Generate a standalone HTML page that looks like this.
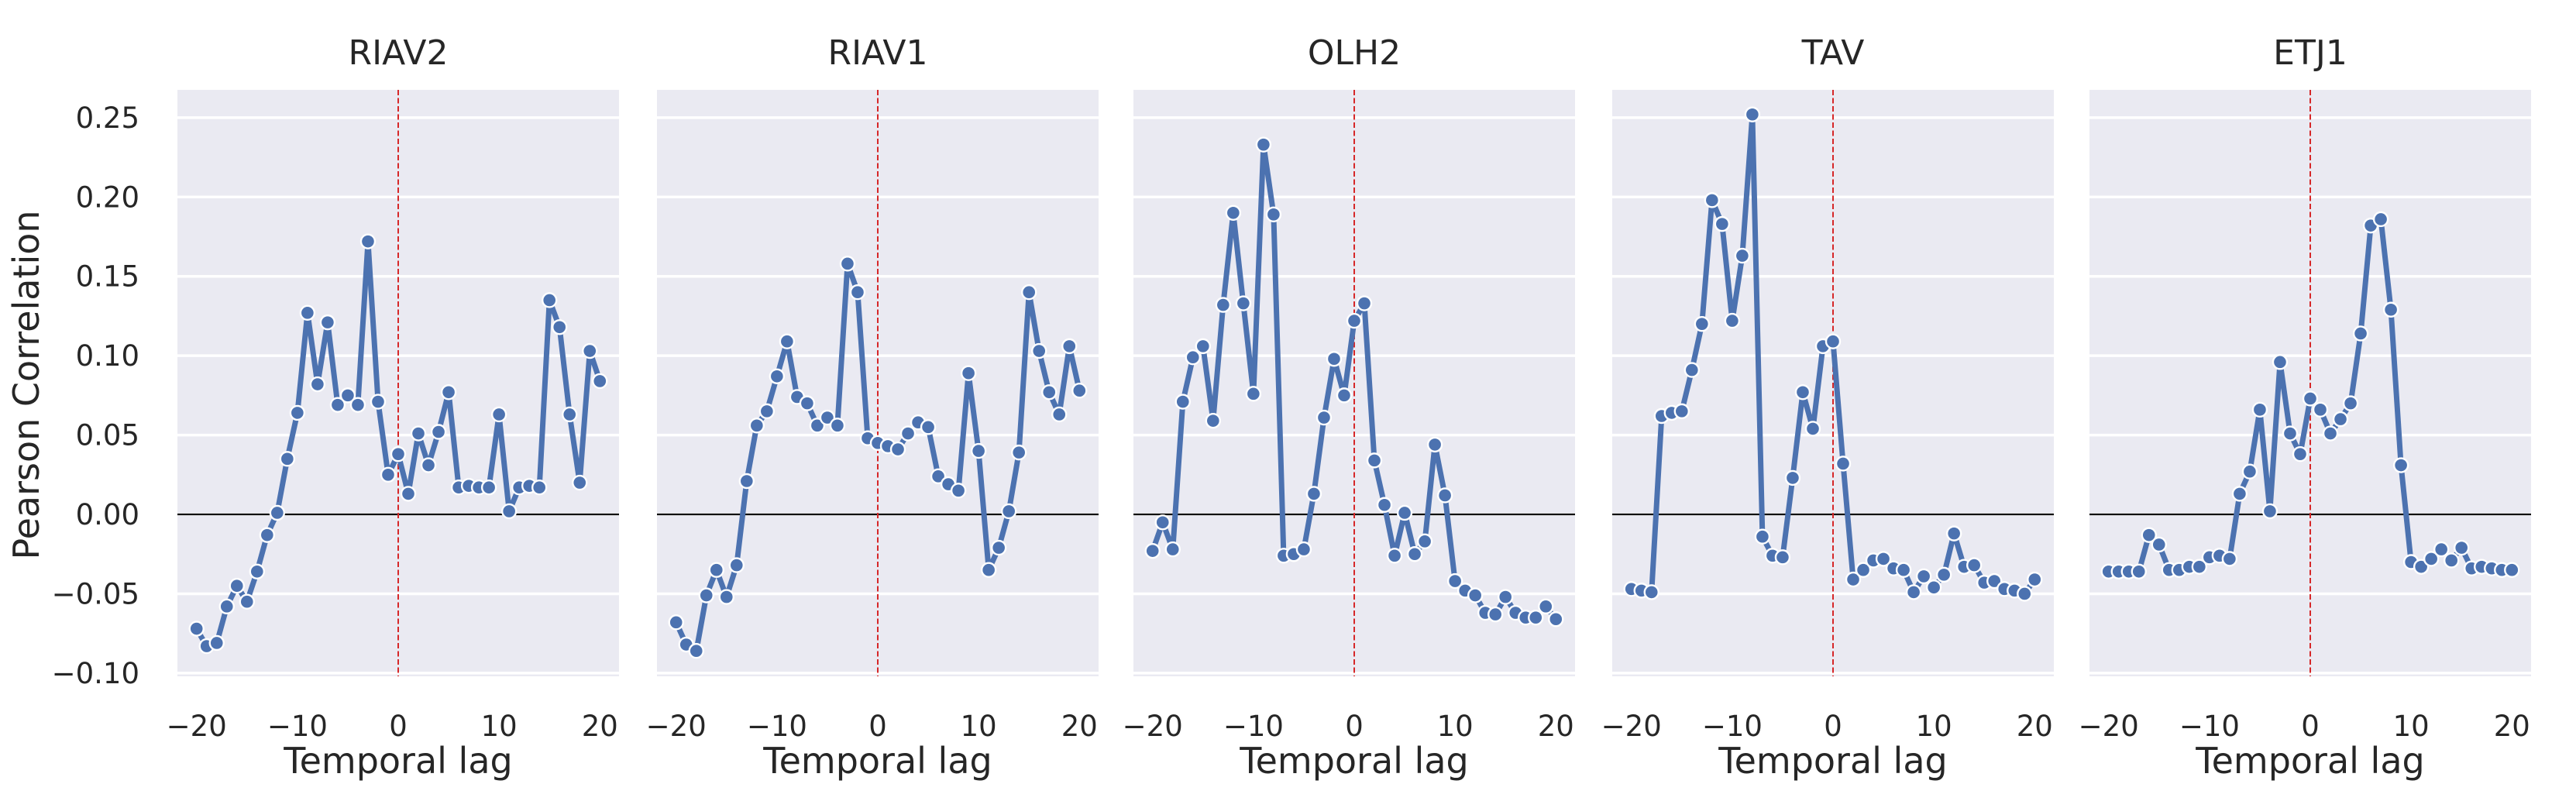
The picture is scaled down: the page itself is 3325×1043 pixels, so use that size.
<!DOCTYPE html>
<html><head><meta charset="utf-8">
<style>
html,body{margin:0;padding:0;background:#fff;}
svg{display:block;font-family:"DejaVu Sans","Liberation Sans",sans-serif;}
</style></head>
<body>
<svg id="chart" width="3325" height="1043" viewBox="0 0 3325 1043" xmlns="http://www.w3.org/2000/svg"></svg>
<script>
const panelTitles = ["RIAV2","RIAV1","OLH2","TAV","ETJ1"];
const lags = [-20,-19,-18,-17,-16,-15,-14,-13,-12,-11,-10,-9,-8,-7,-6,-5,-4,-3,-2,-1,0,1,2,3,4,5,6,7,8,9,10,11,12,13,14,15,16,17,18,19,20];
const riav2 = [-0.072,-0.083,-0.081,-0.058,-0.045,-0.055,-0.036,-0.013,0.001,0.035,0.064,0.127,0.082,0.121,0.069,0.075,0.069,0.172,0.071,0.025,0.038,0.013,0.051,0.031,0.052,0.077,0.017,0.018,0.017,0.017,0.063,0.002,0.017,0.018,0.017,0.135,0.118,0.063,0.020,0.103,0.084];
const riav1 = [-0.068,-0.082,-0.086,-0.051,-0.035,-0.052,-0.032,0.021,0.056,0.065,0.087,0.109,0.074,0.070,0.056,0.061,0.056,0.158,0.140,0.048,0.045,0.043,0.041,0.051,0.058,0.055,0.024,0.019,0.015,0.089,0.040,-0.035,-0.021,0.002,0.039,0.140,0.103,0.077,0.063,0.106,0.078];
const olh2 = [-0.023,-0.005,-0.022,0.071,0.099,0.106,0.059,0.132,0.190,0.133,0.076,0.233,0.189,-0.026,-0.025,-0.022,0.013,0.061,0.098,0.075,0.122,0.133,0.034,0.006,-0.026,0.001,-0.025,-0.017,0.044,0.012,-0.042,-0.048,-0.051,-0.062,-0.063,-0.052,-0.062,-0.065,-0.065,-0.058,-0.066];
const tav = [-0.047,-0.048,-0.049,0.062,0.064,0.065,0.091,0.120,0.198,0.183,0.122,0.163,0.252,-0.014,-0.026,-0.027,0.023,0.077,0.054,0.106,0.109,0.032,-0.041,-0.035,-0.029,-0.028,-0.034,-0.035,-0.049,-0.039,-0.046,-0.038,-0.012,-0.033,-0.032,-0.043,-0.042,-0.047,-0.048,-0.050,-0.041];
const etj1 = [-0.036,-0.036,-0.036,-0.036,-0.013,-0.019,-0.035,-0.035,-0.033,-0.033,-0.027,-0.026,-0.028,0.013,0.027,0.066,0.002,0.096,0.051,0.038,0.073,0.066,0.051,0.060,0.070,0.114,0.182,0.186,0.129,0.031,-0.030,-0.033,-0.028,-0.022,-0.029,-0.021,-0.034,-0.033,-0.034,-0.035,-0.035];
const yTicks = [-0.10,-0.05,0.00,0.05,0.10,0.15,0.20,0.25];
const yTickLabels = ["\u22120.10","\u22120.05","0.00","0.05","0.10","0.15","0.20","0.25"];
const xTicks = [-20,-10,0,10,20];
const xTickLabels = ["\u221220","\u221210","0","10","20"];
const series = [riav2, riav1, olh2, tav, etj1];

const NS = "http://www.w3.org/2000/svg";
const svg = document.getElementById("chart");
function mk(tag, attrs, parent){
  const e = document.createElementNS(NS, tag);
  for (const k in attrs) e.setAttribute(k, attrs[k]);
  (parent||svg).appendChild(e);
  return e;
}
const lefts = [229, 848, 1463, 2081, 2697];
const W = 570, TOP = 116, BOT = 873;
const yMin = -0.102, yMax = 0.2675, xMin = -21.9, xMax = 21.9;
const yS = v => BOT - (v - yMin) / (yMax - yMin) * (BOT - TOP);

series.forEach((vals, p) => {
  const L = lefts[p];
  const xS = v => L + (v - xMin) / (xMax - xMin) * W;
  const g = mk("g", {});
  
  
  const bg = mk("rect", {x:L, y:TOP, width:W, height:BOT-TOP, fill:"#eaeaf2"}, g);
  
  
  yTicks.forEach((t, i) => {
    const gl = mk("line", {x1:L, x2:L+W, y1:yS(t), y2:yS(t), stroke:"#fff", "stroke-width":3.5}, g);
    
    
    if (p === 0) {
      const tl = mk("text", {x:180, y:yS(t)+13, "text-anchor":"end", "font-size":37, fill:"#262626"}, g);
      tl.textContent = yTickLabels[i];
      
      
    }
  });
  xTicks.forEach((t, i) => {
    const tl = mk("text", {x:xS(t), y:950, "text-anchor":"middle", "font-size":37, fill:"#262626"}, g);
    tl.textContent = xTickLabels[i];
    
    
  });
  const zl = mk("line", {x1:L, x2:L+W, y1:yS(0), y2:yS(0), stroke:"#000", "stroke-width":2.2}, g);
  
  
  const vl = mk("line", {x1:xS(0), x2:xS(0), y1:TOP, y2:BOT, stroke:"#d62728", "stroke-width":2, "stroke-dasharray":"7,3.5"}, g);
  
  
  const pts = lags.map((l, i) => xS(l).toFixed(1) + "," + yS(vals[i]).toFixed(1)).join(" ");
  const pl = mk("polyline", {points:pts, fill:"none", stroke:"#4c72b0", "stroke-width":7, "stroke-linejoin":"round"}, g);
  
  
  lags.forEach((l, i) => {
    const c = mk("circle", {cx:xS(l), cy:yS(vals[i]), r:9, fill:"#4c72b0", stroke:"#fff", "stroke-width":2.4}, g);
    
    
  });
  const tt = mk("text", {x:L+W/2, y:83, "text-anchor":"middle", "font-size":44, fill:"#262626"}, g);
  tt.textContent = panelTitles[p];
  
  
  const xl = mk("text", {x:L+W/2, y:998, "text-anchor":"middle", "font-size":46, fill:"#262626"}, g);
  xl.textContent = "Temporal lag";
  
  
});
const yl = mk("text", {x:0, y:0, "text-anchor":"middle", "font-size":46, fill:"#262626", transform:"translate(50,497) rotate(-90)"});
yl.textContent = "Pearson Correlation";


</script>
</body></html>
